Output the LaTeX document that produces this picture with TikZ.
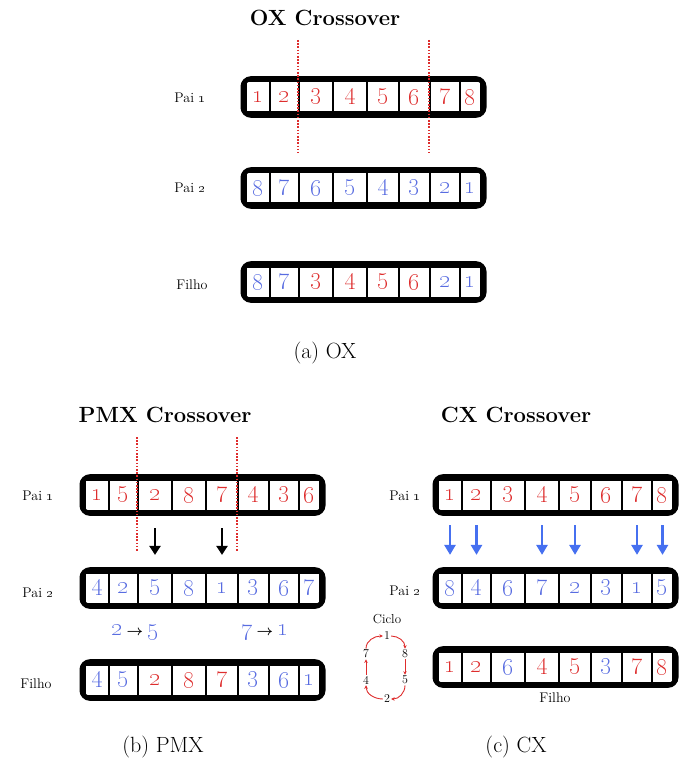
\documentclass[tikz,border=0pt]{standalone}
\usepackage{amsmath}
\usetikzlibrary{arrows.meta,fit}
\definecolor{vermelho}{RGB}{222,45,45}
\definecolor{azul}{RGB}{88,108,225}
\definecolor{azulseta}{RGB}{70,112,240}
\def\bordas{{6,30,59,93,127,159,190,220,241}}
\newcommand{\cromossomo}[4]{%
	\foreach \num/\cor [count=\i] in {#4} {
		\pgfmathsetmacro{\xa}{#2+\bordas[\i-1]}
		\pgfmathsetmacro{\xb}{#2+\bordas[\i]}
		\pgfmathsetmacro{\largura}{\xb-\xa}
		\node[celula, minimum width=\largura pt, text=\cor] (#1-\i) at ({(\xa+\xb)/2}, #3) {\oldstylenums{\num}};
	}
	\node[barra, fit=(#1-1)(#1-8)] (#1) {};
}
\newcommand{\mapeia}{\,\textcolor{black}{\fontsize{15}{15}\selectfont$\boldsymbol{\rightarrow}$}\,}
\begin{document}
\begin{tikzpicture}[x=1pt, y=-1pt,
		celula/.style={draw, fill=white, line width=1.6pt, minimum height=30.6pt, inner sep=0pt, font=\fontsize{25}{25}\selectfont},
		barra/.style={draw, line width=5pt, rounded corners=8pt, inner sep=2.2pt},
		titulo/.style={font=\fontsize{22}{24}\selectfont\bfseries},
		rotulo/.style={font=\fontsize{14}{16}\selectfont},
		legenda/.style={font=\fontsize{22}{24}\selectfont},
		corte/.style={draw=vermelho, line width=1.8pt, dash pattern=on 1.6pt off 1.6pt},
		setapreta/.style={-{Triangle[width=11pt, length=9pt]}, line width=2.4pt},
		setaazul/.style={-{Triangle[width=11pt, length=10pt]}, line width=2.8pt, draw=azulseta},
		ciclo/.style={-{Stealth[length=3.5pt, width=3.5pt]}, line width=0.9pt, draw=vermelho},
		passo/.style={font=\fontsize{12}{14}\selectfont, inner sep=1pt},
		mapa/.style={text=azul, font=\fontsize{23}{24}\selectfont}]
	\useasboundingbox (0,0) rectangle (689,767);

	\node[titulo] (tox) at (325,18) {OX Crossover};
	\cromossomo{ox1}{240}{97}{1/vermelho, 2/vermelho, 3/vermelho, 4/vermelho, 5/vermelho, 6/vermelho, 7/vermelho, 8/vermelho}
	\cromossomo{ox2}{240}{188}{8/azul, 7/azul, 6/azul, 5/azul, 4/azul, 3/azul, 2/azul, 1/azul}
	\cromossomo{oxf}{240}{282}{8/azul, 7/azul, 3/vermelho, 4/vermelho, 5/vermelho, 6/vermelho, 2/azul, 1/azul}
	\node[rotulo] (lox1) at (190,98) {Pai \oldstylenums{1}};
	\node[rotulo] (lox2) at (190,188) {Pai \oldstylenums{2}};
	\node[rotulo] (loxf) at (192,285) {Filho};
	\draw[corte] ([yshift=57pt]ox1-3.west) -- ([yshift=-56pt]ox1-3.west);
	\draw[corte] ([yshift=57pt]ox1-7.west) -- ([yshift=-56pt]ox1-7.west);
	\node[legenda] (cox) at (325,353) {(a) OX};

	\node[titulo] (tpmx) at (165,415) {PMX Crossover};
	\cromossomo{pmx1}{79}{495}{1/vermelho, 5/vermelho, 2/vermelho, 8/vermelho, 7/vermelho, 4/vermelho, 3/vermelho, 6/vermelho}
	\cromossomo{pmx2}{79}{588}{4/azul, 2/azul, 5/azul, 8/azul, 1/azul, 3/azul, 6/azul, 7/azul}
	\cromossomo{pmxf}{79}{680}{4/azul, 5/azul, 2/vermelho, 8/vermelho, 7/vermelho, 3/azul, 6/azul, 1/azul}
	\node[rotulo] (lpmx1) at (38,496) {Pai \oldstylenums{1}};
	\node[rotulo] (lpmx2) at (38,593) {Pai \oldstylenums{2}};
	\node[rotulo] (lpmxf) at (36,684) {Filho};
	\draw[corte] ([yshift=58pt]pmx1-3.west) -- ([yshift=-57pt]pmx1-3.west);
	\draw[corte] ([yshift=58pt]pmx1-6.west) -- ([yshift=-57pt]pmx1-6.west);
	\draw[setapreta, shorten <=17pt, shorten >=17pt] (pmx1-3.south) -- (pmx2-3.north);
	\draw[setapreta, shorten <=17pt, shorten >=17pt] (pmx1-5.south) -- (pmx2-5.north);
	\node[mapa] (m25) at (135,633) {\oldstylenums{2}\mapeia\oldstylenums{5}};
	\node[mapa] (m71) at (265,633) {\oldstylenums{7}\mapeia\oldstylenums{1}};
	\node[legenda] (cpmx) at (163,747) {(b) PMX};

	\node[titulo] (tcx) at (516,415) {CX Crossover};
	\cromossomo{cx1}{432}{495}{1/vermelho, 2/vermelho, 3/vermelho, 4/vermelho, 5/vermelho, 6/vermelho, 7/vermelho, 8/vermelho}
	\cromossomo{cx2}{432}{588}{8/azul, 4/azul, 6/azul, 7/azul, 2/azul, 3/azul, 1/azul, 5/azul}
	\cromossomo{cxf}{432}{667}{1/vermelho, 2/vermelho, 6/azul, 4/vermelho, 5/vermelho, 3/azul, 7/vermelho, 8/vermelho}
	\node[rotulo] (lcx1) at (405,496) {Pai \oldstylenums{1}};
	\node[rotulo] (lcx2) at (405,591) {Pai \oldstylenums{2}};
	\node[rotulo] (lcxf) at (555,698) {Filho};
	\foreach \k in {1,2,4,5,7,8}
		\draw[setaazul, shorten <=14pt, shorten >=17pt] (cx1-\k.south) -- (cx2-\k.north);

	\node[rotulo, font=\fontsize{13}{15}\selectfont] (tciclo) at (387,619) {Ciclo};
	\node[passo] (c1) at (387,636) {1};
	\node[passo] (c8) at (405,654) {8};
	\node[passo] (c5) at (405,680) {5};
	\node[passo] (c2) at (387,699) {2};
	\node[passo] (c4) at (366,680) {4};
	\node[passo] (c7) at (366,654) {7};
	\draw[ciclo] (c1.east) to[out=0, in=90] (c8.north);
	\draw[ciclo] (c8.south) -- (c5.north);
	\draw[ciclo] (c5.south) to[out=-90, in=0] (c2.east);
	\draw[ciclo] (c2.west) to[out=180, in=-90] (c4.south);
	\draw[ciclo] (c4.north) -- (c7.south);
	\draw[ciclo] (c7.north) to[out=90, in=180] (c1.west);
	\node[legenda] (ccx) at (516,747) {(c) CX};
\end{tikzpicture}
\end{document}
